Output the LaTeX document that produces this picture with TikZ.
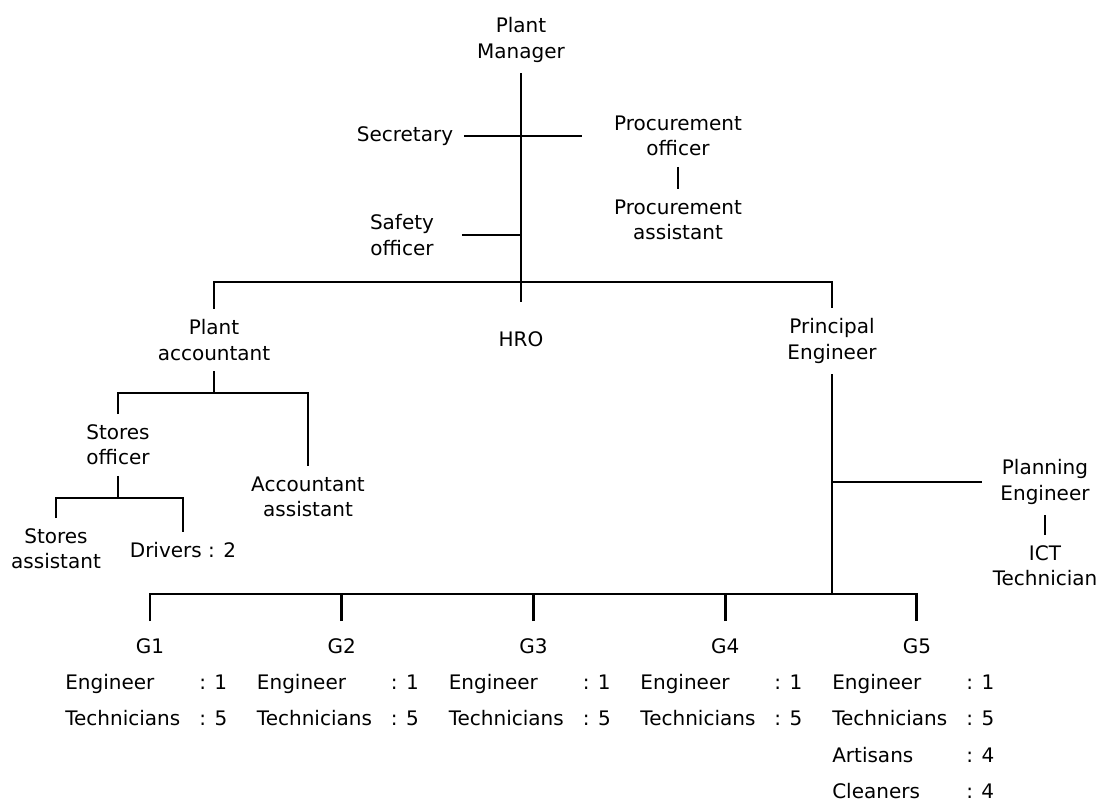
\documentclass[tikz,border=0pt]{standalone}
\usepackage{fontspec}
\setmainfont{DejaVu Sans}
\newcommand\staff[2]{\makebox[100.5pt][l]{#1}: #2}

\begin{document}
\begin{tikzpicture}[
    x=0.75pt, y=-0.75pt,
    node distance=143.8pt,
    font=\fontsize{15}{19}\selectfont,
    role/.style={align=center, inner sep=0pt, outer sep=8pt},
    grp/.style={inner sep=0pt, outer sep=13pt},
    cell/.style={anchor=base west, inner sep=0pt},
    link/.style={line width=2.2pt}
]
    \useasboundingbox (0,0) rectangle (1102,801);

    % Management
    \node[role] (pm) at (521,40) {Plant\\Manager};
    \node[role] (sec) at (405,136) {Secretary};
    \node[role] (proc) at (678,136) {Procurement\\officer};
    \node[role] (procasst) at (678,220) {Procurement\\assistant};
    \node[role] (safety) at (402,235) {Safety\\officer};

    % Departments
    \node[role] (pa) at (214,340) {Plant\\accountant};
    \node[role] (hro) at (521,339) {HRO};
    \node[role] (pe) at (832,341) {Principal\\Engineer};

    % Accounts
    \node[role] (so) at (118,445) {Stores\\officer};
    \node[role] (aa) at (308,497) {Accountant\\assistant};
    \node[role] (sa) at (56,549) {Stores\\assistant};
    \node[role] (dr) at (183,550) {Drivers : 2};

    % Planning
    \node[role] (plan) at (1045,482) {Planning\\Engineer};
    \node[role] (ict) at (1045,566) {ICT\\Technician};

    % Groups
    \node[grp] (g1) at (150,646) {G1};
    \node[grp, right of=g1] (g2) {G2};
    \node[grp, right of=g2] (g3) {G3};
    \node[grp, right of=g3] (g4) {G4};
    \node[grp, right of=g4] (g5) {G5};

    % Staff per group
    \node[cell] (g1a) at (65,689) {\staff{Engineer}{1}};
    \node[cell] (g1b) at (65,725.5) {\staff{Technicians}{5}};
    \node[cell] (g2a) at (256.7,689) {\staff{Engineer}{1}};
    \node[cell] (g2b) at (256.7,725.5) {\staff{Technicians}{5}};
    \node[cell] (g3a) at (448.5,689) {\staff{Engineer}{1}};
    \node[cell] (g3b) at (448.5,725.5) {\staff{Technicians}{5}};
    \node[cell] (g4a) at (640.2,689) {\staff{Engineer}{1}};
    \node[cell] (g4b) at (640.2,725.5) {\staff{Technicians}{5}};
    \node[cell] (g5a) at (832,689) {\staff{Engineer}{1}};
    \node[cell] (g5b) at (832,725.5) {\staff{Technicians}{5}};
    \node[cell] (g5c) at (832,762) {\staff{Artisans}{4}};
    \node[cell] (g5d) at (832,798) {\staff{Cleaners}{4}};

    % Junctions
    \coordinate (top) at (521,282);
    \coordinate (acc) at (214,393);
    \coordinate (store) at (118,498);
    \coordinate (grpline) at (832,594);

    % Lines
    \draw[link, shorten >=14pt] (pm) -- (hro);
    \draw[link, shorten >=16pt] (sec) -- (proc);
    \draw[link] (proc) -- (procasst);
    \draw[link, shorten <=13pt] (safety) -- (safety -| pm);
    \draw[link] (pa) -- (pa |- top) -- (pe |- top) -- (pe);
    \draw[link] (pa) -- (acc);
    \draw[link] (so) -- (so |- acc) -- (aa |- acc) -- (aa);
    \draw[link] (so) -- (store);
    \draw[link] (sa) -- (sa |- store) -- (dr |- store) -- (dr);
    \draw[link] (pe) -- (grpline);
    \draw[link, shorten >=6pt] (pe |- plan) -- (plan);
    \draw[link] (plan) -- (ict);
    \draw[link] (g1) -- (g1 |- grpline) -- (g5 |- grpline) -- (g5);
    \draw[link] (g2) -- (g2 |- grpline);
    \draw[link] (g3) -- (g3 |- grpline);
    \draw[link] (g4) -- (g4 |- grpline);
\end{tikzpicture}
\end{document}
